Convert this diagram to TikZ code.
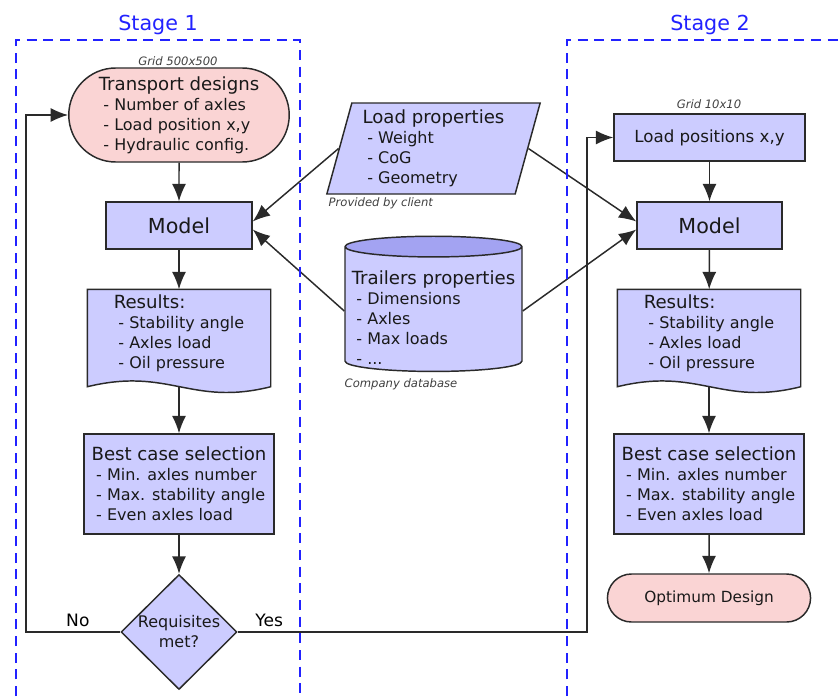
\documentclass[tikz,border=0pt]{standalone}
\usepackage{fontspec}
\setmainfont{DejaVu Sans}
\usetikzlibrary{arrows.meta}
\usetikzlibrary{calc,shapes.geometric,shapes.misc,backgrounds}

\definecolor{boxblue}{HTML}{CCCCFF}
\definecolor{topblue}{HTML}{A3A3F2}
\definecolor{designpink}{HTML}{FAD4D4}
\definecolor{edgegray}{HTML}{2A2A2A}
\definecolor{stageblue}{HTML}{2222FF}

\newcommand{\boxtitle}[1]{{\fontsize{13.6}{15}\selectfont #1}}
\newcommand{\dashitem}{\hspace{3.5pt}- }

\tikzset{
  flow/.style={draw=edgegray, line width=1.1pt, text=black!90, align=left,
    font=\fontsize{12}{15}\selectfont},
  blockbox/.style={flow, rectangle, fill=boxblue},
  termbox/.style={flow, rounded rectangle, fill=designpink},
  note/.style={font=\fontsize{8.7}{10}\selectfont\itshape, text=black!75},
  stagelabel/.style={font=\fontsize{15.5}{18}\selectfont, text=stageblue},
  link/.style={draw=edgegray, line width=1.1pt, -{Latex[length=13pt,width=10.5pt]}},
  stage/.style={draw=stageblue, line width=1.1pt, dash pattern=on 7.5pt off 5pt},
}

\begin{document}
\begin{tikzpicture}[x=0.75pt,y=-0.75pt]
\useasboundingbox (0,0) rectangle (838,696);

% stage 1
\node[termbox, minimum width=172pt, minimum height=70.5pt] (designs) at (179,115)
  {\boxtitle{Transport designs}\\\dashitem Number of axles\\\dashitem Load position x,y\\\dashitem Hydraulic config.};
\node[blockbox, minimum width=109.5pt, minimum height=35.25pt, font=\fontsize{15.5}{18}\selectfont] (modelL) at (179,225.5) {Model};
\node[flow, draw=none, minimum width=136.5pt, minimum height=64.5pt] (resultsL) at (179,333)
  {\boxtitle{Results:}\\\dashitem Stability angle\\\dashitem Axles load\\\dashitem Oil pressure};
\node[blockbox, minimum width=142.5pt, minimum height=75pt] (bestL) at (179,484)
  {\boxtitle{Best case selection}\\\dashitem Min. axles number\\\dashitem Max. stability angle\\\dashitem Even axles load};
\node[flow, diamond, fill=boxblue, aspect=1, inner sep=0pt, minimum width=87pt, minimum height=86.25pt, align=center] (requisites) at (179,632)
  {Requisites\\met?};

% inputs
\node[flow, trapezium, trapezium left angle=75, trapezium right angle=105, trapezium stretches=true, fill=boxblue,
  minimum width=160pt, minimum height=68.25pt] (loadprops) at (433.5,148.5)
  {\boxtitle{Load properties}\\\dashitem Weight\\\dashitem CoG\\\dashitem Geometry};
\node[flow, cylinder, shape border rotate=90, aspect=0.12, cylinder uses custom fill, cylinder body fill=boxblue,
  cylinder end fill=topblue, inner ysep=0pt, minimum width=132.75pt, minimum height=100.5pt] (trailers) at (433.5,311)
  {\rule{0pt}{20pt}\boxtitle{Trailers properties}\\\dashitem Dimensions\\\dashitem Axles\\\dashitem Max loads\\\dashitem ...};

% stage 2
\node[blockbox, minimum width=143.25pt, minimum height=35.25pt, font=\fontsize{12.5}{15}\selectfont] (loadpos) at (709.5,137.5) {Load positions x,y};
\node[blockbox, minimum width=108.75pt, minimum height=35.25pt, font=\fontsize{15.5}{18}\selectfont] (modelR) at (709.5,225.5) {Model};
\node[flow, draw=none, minimum width=136.5pt, minimum height=64.5pt] (resultsR) at (709,333)
  {\boxtitle{Results:}\\\dashitem Stability angle\\\dashitem Axles load\\\dashitem Oil pressure};
\node[blockbox, minimum width=142.5pt, minimum height=75pt] (bestR) at (709,484)
  {\boxtitle{Best case selection}\\\dashitem Min. axles number\\\dashitem Max. stability angle\\\dashitem Even axles load};
\node[termbox, minimum width=159pt, minimum height=36pt, font=\fontsize{11.5}{14}\selectfont] (optimum) at (709,598) {Optimum Design};

\begin{scope}[on background layer]
  \foreach \res in {resultsL,resultsR}
    \draw[draw=edgegray, line width=1.1pt, fill=boxblue] (\res.north west) -- (\res.north east)
      -- ($(\res.south east)+(0,10)$) .. controls ($(\res.south east)+(-80,30)$) and ($(\res.south west)+(82,-10)$)
      .. ($(\res.south west)+(0,10)$) -- cycle;
\end{scope}

\coordinate (noturn) at (26,632);
\coordinate (yesturn) at (587,632);

\draw[link] (designs) -- (modelL);
\draw[link] (modelL) -- (resultsL);
\draw[link] ($(resultsL.south)+(0,10)$) -- (bestL);
\draw[link] (bestL) -- (requisites);
\draw[link] (requisites.west) -- node[pos=0.45, above, font=\fontsize{12.8}{15}\selectfont] {No} (noturn) |- (designs.west);
\draw[link] (requisites.east) -- node[pos=0.09, above, font=\fontsize{12.8}{15}\selectfont] {Yes} (yesturn) |- (loadpos.west);

\draw[link] (loadpos) -- (modelR);
\draw[link] (modelR) -- (resultsR);
\draw[link] ($(resultsR.south)+(0,10)$) -- (bestR);
\draw[link] (bestR) -- (optimum);

\draw[link] (loadprops.west) -- ($(modelL.east)+(0,-4)$);
\draw[link] (trailers.west) -- ($(modelL.east)+(0,4)$);
\draw[link] (loadprops.east) -- ($(modelR.west)+(0,-4)$);
\draw[link] (trailers.east) -- ($(modelR.west)+(0,4)$);

% stages
\draw[stage] (16,696) -- (16,40) -- (300,40) -- (300,696);
\draw[stage] (567,696) -- (567,40) -- (838,40);
\node[stagelabel] (stage1) at (158,25) {Stage 1};
\node[stagelabel] (stage2) at (710,25) {Stage 2};

\node[note] (gridL) at (178,61) {Grid 500x500};
\node[note] (gridR) at (709,104) {Grid 10x10};
\node[note, anchor=west] (client) at (324,203) {Provided by client};
\node[note, anchor=west] (database) at (340,384) {Company database};
\end{tikzpicture}
\end{document}
